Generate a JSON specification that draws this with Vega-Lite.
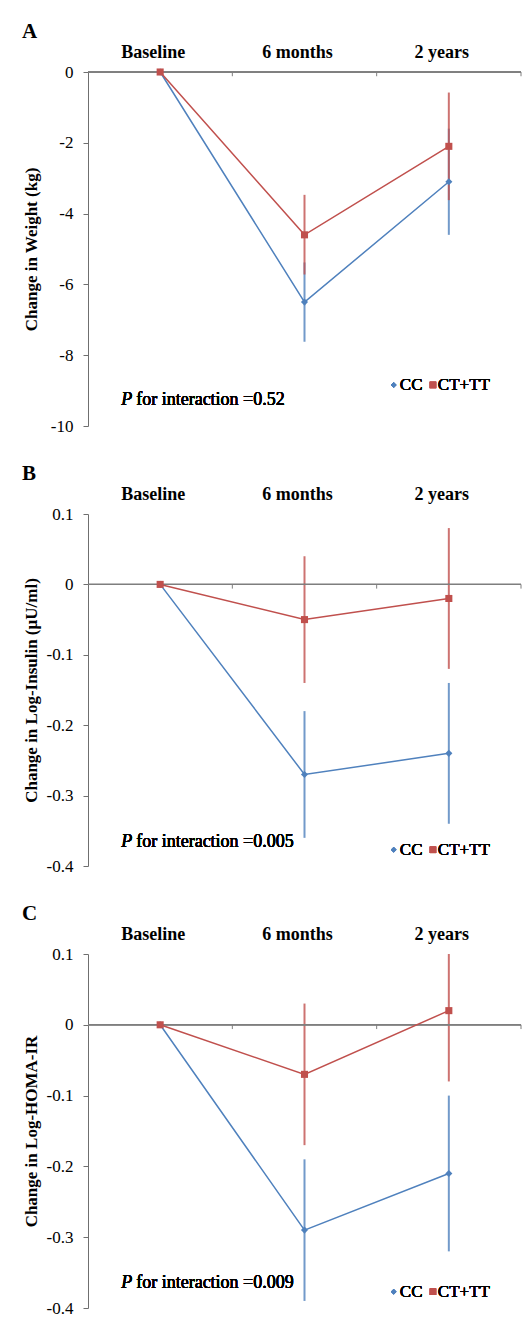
{
  "$schema": "https://vega.github.io/schema/vega-lite/v6.json",
  "background": "white",
  "padding": {"left": 22, "top": 21, "right": 0, "bottom": 4},
  "spacing": 29,
  "config": {
    "view": {"stroke": null}
  },
  "datasets": {
    "A": [
      {"time": "Baseline", "group": "CC", "mean": 0, "lo": 0, "hi": 0},
      {"time": "6 months", "group": "CC", "mean": -6.5, "lo": -7.62, "hi": -5.38},
      {"time": "2 years", "group": "CC", "mean": -3.1, "lo": -4.6, "hi": -1.6},
      {"time": "Baseline", "group": "CT+TT", "mean": 0, "lo": 0, "hi": 0},
      {"time": "6 months", "group": "CT+TT", "mean": -4.6, "lo": -5.72, "hi": -3.47},
      {"time": "2 years", "group": "CT+TT", "mean": -2.1, "lo": -3.62, "hi": -0.58}
    ],
    "B": [
      {"time": "Baseline", "group": "CC", "mean": 0, "lo": 0, "hi": 0},
      {"time": "6 months", "group": "CC", "mean": -0.27, "lo": -0.36, "hi": -0.18},
      {"time": "2 years", "group": "CC", "mean": -0.24, "lo": -0.34, "hi": -0.14},
      {"time": "Baseline", "group": "CT+TT", "mean": 0, "lo": 0, "hi": 0},
      {"time": "6 months", "group": "CT+TT", "mean": -0.05, "lo": -0.14, "hi": 0.04},
      {"time": "2 years", "group": "CT+TT", "mean": -0.02, "lo": -0.12, "hi": 0.08}
    ],
    "C": [
      {"time": "Baseline", "group": "CC", "mean": 0, "lo": 0, "hi": 0},
      {"time": "6 months", "group": "CC", "mean": -0.29, "lo": -0.39, "hi": -0.19},
      {"time": "2 years", "group": "CC", "mean": -0.21, "lo": -0.32, "hi": -0.1},
      {"time": "Baseline", "group": "CT+TT", "mean": 0, "lo": 0, "hi": 0},
      {"time": "6 months", "group": "CT+TT", "mean": -0.07, "lo": -0.17, "hi": 0.03},
      {"time": "2 years", "group": "CT+TT", "mean": 0.02, "lo": -0.08, "hi": 0.1}
    ],
    "ticks": [{"time": "6 months"}, {"time": "2 years"}],
    "endtick": [{"time": "2 years"}]
  },
  "vconcat": [
    {
      "title": {"text": "A", "font": "Liberation Serif", "fontSize": 21, "fontWeight": "bold", "color": "black", "anchor": "start", "frame": "group", "dx": -66, "offset": 1},
      "width": 433,
      "height": 354,
      "data": {"name": "A"},
      "layer": [
        {"mark": {"type": "rule", "strokeWidth": 2, "opacity": 0.8}, "encoding": {
          "x": {"field": "time", "type": "nominal", "scale": {"type": "band", "domain": ["Baseline", "6 months", "2 years"], "paddingInner": 0, "paddingOuter": 0}, "axis": {"orient": "top", "title": null, "domain": false, "ticks": false, "grid": false, "labelFont": "Liberation Serif", "labelColor": "black", "labelFontWeight": "bold", "labelFontSize": 18, "labelAngle": 0, "labelPadding": 11, "labelOffset": -7}},
          "y": {"field": "lo", "type": "quantitative", "scale": {"domain": [-10, 0], "nice": false, "zero": false}, "axis": {"values": [0, -2, -4, -6, -8, -10], "labelExpr": "datum.value < 0 ? '-' + format(-datum.value, '~g') : format(datum.value, '~g')", "grid": false, "labelFont": "Liberation Serif", "labelColor": "black", "labelFontSize": 17, "labelPadding": 10, "tickSize": 5, "tickColor": "#6f6f6f", "domainColor": "#6f6f6f", "title": "Change in Weight  (kg)", "titleFont": "Liberation Serif", "titleColor": "black", "titleFontSize": 17, "titleFontWeight": "bold", "titlePadding": 10}},
          "y2": {"field": "hi"},
          "color": {"field": "group", "type": "nominal", "scale": {"domain": ["CC", "CT+TT"], "range": ["#4F81BD", "#C0504D"]}, "legend": null}}},
        {"mark": {"type": "rule", "color": "#7f7f7f", "strokeWidth": 1}, "encoding": {"y": {"datum": 0, "type": "quantitative"}}},
        {"data": {"name": "ticks"}, "mark": {"type": "rule", "color": "#7f7f7f"}, "encoding": {"x": {"field": "time", "type": "nominal", "bandPosition": 0}, "y": {"datum": 0, "type": "quantitative"}, "y2": {"datum": -0.12}}},
        {"data": {"name": "endtick"}, "mark": {"type": "rule", "color": "#7f7f7f"}, "encoding": {"x": {"field": "time", "type": "nominal", "bandPosition": 1}, "y": {"datum": 0, "type": "quantitative"}, "y2": {"datum": -0.12}}},
        {"mark": {"type": "line", "strokeWidth": 1.5}, "encoding": {"x": {"field": "time", "type": "nominal"}, "y": {"field": "mean", "type": "quantitative"}, "color": {"field": "group", "type": "nominal", "legend": null}}},
        {"mark": {"type": "point", "filled": true, "size": 50, "opacity": 1}, "encoding": {"x": {"field": "time", "type": "nominal"}, "y": {"field": "mean", "type": "quantitative"}, "color": {"field": "group", "type": "nominal", "legend": null}, "shape": {"field": "group", "type": "nominal", "scale": {"domain": ["CC", "CT+TT"], "range": ["diamond", "square"]}, "legend": null}}},
        {"mark": {"type": "point", "shape": "diamond", "filled": true, "size": 30, "opacity": 1, "color": "#4F81BD"}, "encoding": {"x": {"datum": "2 years", "type": "nominal", "bandPosition": 0.118}, "y": {"datum": -8.84, "type": "quantitative"}}},
        {"mark": {"type": "text", "font": "Liberation Serif", "fontSize": 17, "color": "black", "align": "left", "baseline": "middle", "dx": -49}, "encoding": {"x": {"datum": "2 years", "type": "nominal"}, "y": {"datum": -8.84, "type": "quantitative"}, "text": {"value": "CC"}}},
        {"mark": {"type": "point", "shape": "square", "filled": true, "size": 42, "opacity": 1, "color": "#C0504D"}, "encoding": {"x": {"datum": "2 years", "type": "nominal", "bandPosition": 0.39}, "y": {"datum": -8.84, "type": "quantitative"}}},
        {"mark": {"type": "text", "font": "Liberation Serif", "fontSize": 17, "color": "black", "align": "left", "baseline": "middle", "dx": -11}, "encoding": {"x": {"datum": "2 years", "type": "nominal"}, "y": {"datum": -8.84, "type": "quantitative"}, "text": {"value": "CT+TT"}}},
        {"mark": {"type": "text", "font": "Liberation Serif", "fontSize": 18, "fontStyle": "italic", "color": "black", "align": "left", "baseline": "middle", "dx": -39}, "encoding": {"x": {"datum": "Baseline", "type": "nominal"}, "y": {"datum": -9.27, "type": "quantitative"}, "text": {"value": "P"}}},
        {"mark": {"type": "text", "font": "Liberation Serif", "fontSize": 18, "color": "black", "align": "left", "baseline": "middle", "dx": -24}, "encoding": {"x": {"datum": "Baseline", "type": "nominal"}, "y": {"datum": -9.27, "type": "quantitative"}, "text": {"value": "for interaction =0.52"}}}
      ]
    },
    {
      "title": {"text": "B", "font": "Liberation Serif", "fontSize": 21, "fontWeight": "bold", "color": "black", "anchor": "start", "frame": "group", "dx": -66, "offset": 1},
      "width": 433,
      "height": 352,
      "data": {"name": "B"},
      "layer": [
        {"mark": {"type": "rule", "strokeWidth": 2, "opacity": 0.8}, "encoding": {
          "x": {"field": "time", "type": "nominal", "scale": {"type": "band", "domain": ["Baseline", "6 months", "2 years"], "paddingInner": 0, "paddingOuter": 0}, "axis": {"orient": "top", "title": null, "domain": false, "ticks": false, "grid": false, "labelFont": "Liberation Serif", "labelColor": "black", "labelFontWeight": "bold", "labelFontSize": 18, "labelAngle": 0, "labelPadding": 11, "labelOffset": -7}},
          "y": {"field": "lo", "type": "quantitative", "scale": {"domain": [-0.4, 0.1], "nice": false, "zero": false}, "axis": {"values": [0.1, 0, -0.1, -0.2, -0.3, -0.4], "labelExpr": "datum.value < 0 ? '-' + format(-datum.value, '~g') : format(datum.value, '~g')", "grid": false, "labelFont": "Liberation Serif", "labelColor": "black", "labelFontSize": 17, "labelPadding": 10, "tickSize": 5, "tickColor": "#6f6f6f", "domainColor": "#6f6f6f", "title": "Change in Log-Insulin (µU/ml)", "titleFont": "Liberation Serif", "titleColor": "black", "titleFontSize": 17, "titleFontWeight": "bold", "titlePadding": 6}},
          "y2": {"field": "hi"},
          "color": {"field": "group", "type": "nominal", "scale": {"domain": ["CC", "CT+TT"], "range": ["#4F81BD", "#C0504D"]}, "legend": null}}},
        {"mark": {"type": "rule", "color": "#7f7f7f", "strokeWidth": 1}, "encoding": {"y": {"datum": 0, "type": "quantitative"}}},
        {"data": {"name": "ticks"}, "mark": {"type": "rule", "color": "#7f7f7f"}, "encoding": {"x": {"field": "time", "type": "nominal", "bandPosition": 0}, "y": {"datum": 0, "type": "quantitative"}, "y2": {"datum": -0.006}}},
        {"data": {"name": "endtick"}, "mark": {"type": "rule", "color": "#7f7f7f"}, "encoding": {"x": {"field": "time", "type": "nominal", "bandPosition": 1}, "y": {"datum": 0, "type": "quantitative"}, "y2": {"datum": -0.006}}},
        {"mark": {"type": "line", "strokeWidth": 1.5}, "encoding": {"x": {"field": "time", "type": "nominal"}, "y": {"field": "mean", "type": "quantitative"}, "color": {"field": "group", "type": "nominal", "legend": null}}},
        {"mark": {"type": "point", "filled": true, "size": 50, "opacity": 1}, "encoding": {"x": {"field": "time", "type": "nominal"}, "y": {"field": "mean", "type": "quantitative"}, "color": {"field": "group", "type": "nominal", "legend": null}, "shape": {"field": "group", "type": "nominal", "scale": {"domain": ["CC", "CT+TT"], "range": ["diamond", "square"]}, "legend": null}}},
        {"mark": {"type": "point", "shape": "diamond", "filled": true, "size": 30, "opacity": 1, "color": "#4F81BD"}, "encoding": {"x": {"datum": "2 years", "type": "nominal", "bandPosition": 0.118}, "y": {"datum": -0.377, "type": "quantitative"}}},
        {"mark": {"type": "text", "font": "Liberation Serif", "fontSize": 17, "color": "black", "align": "left", "baseline": "middle", "dx": -49}, "encoding": {"x": {"datum": "2 years", "type": "nominal"}, "y": {"datum": -0.377, "type": "quantitative"}, "text": {"value": "CC"}}},
        {"mark": {"type": "point", "shape": "square", "filled": true, "size": 42, "opacity": 1, "color": "#C0504D"}, "encoding": {"x": {"datum": "2 years", "type": "nominal", "bandPosition": 0.39}, "y": {"datum": -0.377, "type": "quantitative"}}},
        {"mark": {"type": "text", "font": "Liberation Serif", "fontSize": 17, "color": "black", "align": "left", "baseline": "middle", "dx": -11}, "encoding": {"x": {"datum": "2 years", "type": "nominal"}, "y": {"datum": -0.377, "type": "quantitative"}, "text": {"value": "CT+TT"}}},
        {"mark": {"type": "text", "font": "Liberation Serif", "fontSize": 18, "fontStyle": "italic", "color": "black", "align": "left", "baseline": "middle", "dx": -39}, "encoding": {"x": {"datum": "Baseline", "type": "nominal"}, "y": {"datum": -0.366, "type": "quantitative"}, "text": {"value": "P"}}},
        {"mark": {"type": "text", "font": "Liberation Serif", "fontSize": 18, "color": "black", "align": "left", "baseline": "middle", "dx": -24}, "encoding": {"x": {"datum": "Baseline", "type": "nominal"}, "y": {"datum": -0.366, "type": "quantitative"}, "text": {"value": "for interaction =0.005"}}}
      ]
    },
    {
      "title": {"text": "C", "font": "Liberation Serif", "fontSize": 21, "fontWeight": "bold", "color": "black", "anchor": "start", "frame": "group", "dx": -66, "offset": 1},
      "width": 433,
      "height": 354,
      "data": {"name": "C"},
      "layer": [
        {"mark": {"type": "rule", "strokeWidth": 2, "opacity": 0.8}, "encoding": {
          "x": {"field": "time", "type": "nominal", "scale": {"type": "band", "domain": ["Baseline", "6 months", "2 years"], "paddingInner": 0, "paddingOuter": 0}, "axis": {"orient": "top", "title": null, "domain": false, "ticks": false, "grid": false, "labelFont": "Liberation Serif", "labelColor": "black", "labelFontWeight": "bold", "labelFontSize": 18, "labelAngle": 0, "labelPadding": 11, "labelOffset": -7}},
          "y": {"field": "lo", "type": "quantitative", "scale": {"domain": [-0.4, 0.1], "nice": false, "zero": false}, "axis": {"values": [0.1, 0, -0.1, -0.2, -0.3, -0.4], "labelExpr": "datum.value < 0 ? '-' + format(-datum.value, '~g') : format(datum.value, '~g')", "grid": false, "labelFont": "Liberation Serif", "labelColor": "black", "labelFontSize": 17, "labelPadding": 10, "tickSize": 5, "tickColor": "#6f6f6f", "domainColor": "#6f6f6f", "title": "Change in Log-HOMA-IR", "titleFont": "Liberation Serif", "titleColor": "black", "titleFontSize": 17, "titleFontWeight": "bold", "titlePadding": 6}},
          "y2": {"field": "hi"},
          "color": {"field": "group", "type": "nominal", "scale": {"domain": ["CC", "CT+TT"], "range": ["#4F81BD", "#C0504D"]}, "legend": null}}},
        {"mark": {"type": "rule", "color": "#7f7f7f", "strokeWidth": 1}, "encoding": {"y": {"datum": 0, "type": "quantitative"}}},
        {"data": {"name": "ticks"}, "mark": {"type": "rule", "color": "#7f7f7f"}, "encoding": {"x": {"field": "time", "type": "nominal", "bandPosition": 0}, "y": {"datum": 0, "type": "quantitative"}, "y2": {"datum": -0.006}}},
        {"data": {"name": "endtick"}, "mark": {"type": "rule", "color": "#7f7f7f"}, "encoding": {"x": {"field": "time", "type": "nominal", "bandPosition": 1}, "y": {"datum": 0, "type": "quantitative"}, "y2": {"datum": -0.006}}},
        {"mark": {"type": "line", "strokeWidth": 1.5}, "encoding": {"x": {"field": "time", "type": "nominal"}, "y": {"field": "mean", "type": "quantitative"}, "color": {"field": "group", "type": "nominal", "legend": null}}},
        {"mark": {"type": "point", "filled": true, "size": 50, "opacity": 1}, "encoding": {"x": {"field": "time", "type": "nominal"}, "y": {"field": "mean", "type": "quantitative"}, "color": {"field": "group", "type": "nominal", "legend": null}, "shape": {"field": "group", "type": "nominal", "scale": {"domain": ["CC", "CT+TT"], "range": ["diamond", "square"]}, "legend": null}}},
        {"mark": {"type": "point", "shape": "diamond", "filled": true, "size": 30, "opacity": 1, "color": "#4F81BD"}, "encoding": {"x": {"datum": "2 years", "type": "nominal", "bandPosition": 0.118}, "y": {"datum": -0.377, "type": "quantitative"}}},
        {"mark": {"type": "text", "font": "Liberation Serif", "fontSize": 17, "color": "black", "align": "left", "baseline": "middle", "dx": -49}, "encoding": {"x": {"datum": "2 years", "type": "nominal"}, "y": {"datum": -0.377, "type": "quantitative"}, "text": {"value": "CC"}}},
        {"mark": {"type": "point", "shape": "square", "filled": true, "size": 42, "opacity": 1, "color": "#C0504D"}, "encoding": {"x": {"datum": "2 years", "type": "nominal", "bandPosition": 0.39}, "y": {"datum": -0.377, "type": "quantitative"}}},
        {"mark": {"type": "text", "font": "Liberation Serif", "fontSize": 17, "color": "black", "align": "left", "baseline": "middle", "dx": -11}, "encoding": {"x": {"datum": "2 years", "type": "nominal"}, "y": {"datum": -0.377, "type": "quantitative"}, "text": {"value": "CT+TT"}}},
        {"mark": {"type": "text", "font": "Liberation Serif", "fontSize": 18, "fontStyle": "italic", "color": "black", "align": "left", "baseline": "middle", "dx": -39}, "encoding": {"x": {"datum": "Baseline", "type": "nominal"}, "y": {"datum": -0.3647, "type": "quantitative"}, "text": {"value": "P"}}},
        {"mark": {"type": "text", "font": "Liberation Serif", "fontSize": 18, "color": "black", "align": "left", "baseline": "middle", "dx": -24}, "encoding": {"x": {"datum": "Baseline", "type": "nominal"}, "y": {"datum": -0.3647, "type": "quantitative"}, "text": {"value": "for interaction =0.009"}}}
      ]
    }
  ]
}
